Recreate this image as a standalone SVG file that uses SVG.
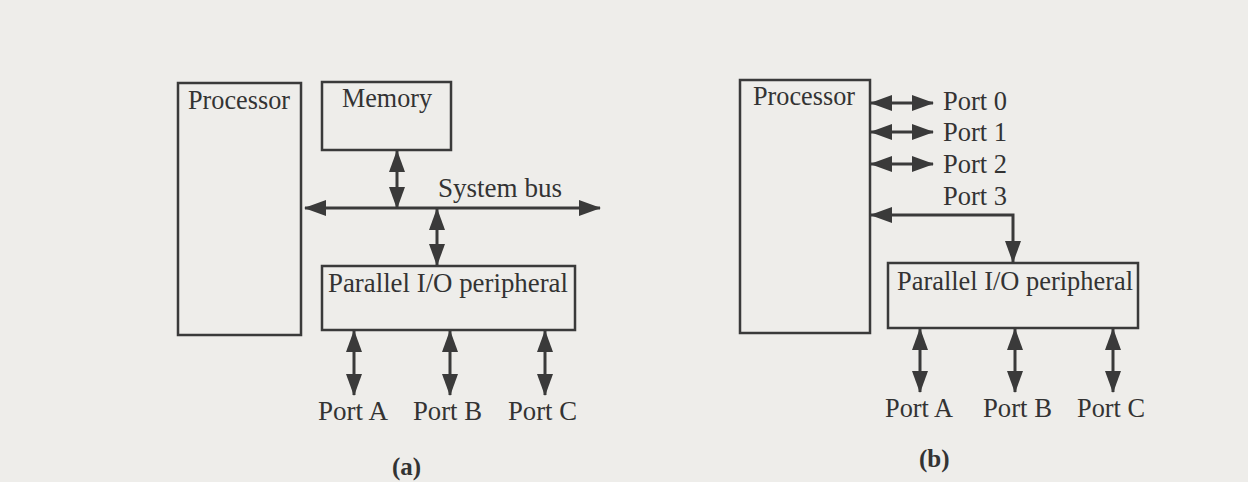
<svg xmlns="http://www.w3.org/2000/svg" width="1248" height="482" viewBox="0 0 1248 482">
<style>
.bg{fill:#eeedea}
.box{fill:none;stroke:#3a3a3a;stroke-width:2.5}
.t{font-family:"Liberation Serif","Times New Roman",serif;font-size:27px;fill:#333}
.cap{font-family:"Liberation Serif","Times New Roman",serif;font-size:25px;font-weight:bold;fill:#333}
.ar{fill:none;stroke:#3a3a3a;stroke-width:3;marker-start:url(#ah);marker-end:url(#ah)}
</style>
<defs>
<marker id="ah" viewBox="0 0 22 16" refX="21" refY="8" markerWidth="22" markerHeight="16" markerUnits="userSpaceOnUse" orient="auto-start-reverse">
<path d="M0,0 L22,8 L0,16 z" fill="#3a3a3a"/>
</marker>
</defs>
<rect class="bg" x="0" y="0" width="1248" height="482"/>

<!-- (a) -->
<g id="a-processor">
<rect class="box" x="178" y="83" width="123" height="252"/>
<text class="t" x="188" y="109" textLength="102" lengthAdjust="spacingAndGlyphs">Processor</text>
</g>
<g id="a-memory">
<rect class="box" x="322" y="82" width="129" height="68"/>
<text class="t" x="342" y="107" textLength="90" lengthAdjust="spacingAndGlyphs">Memory</text>
</g>
<g id="a-pio">
<rect class="box" x="322" y="266" width="253" height="64"/>
<text class="t" x="328" y="292" textLength="240" lengthAdjust="spacingAndGlyphs">Parallel I/O peripheral</text>
</g>
<g id="a-labels">
<text class="t" x="438" y="197" textLength="124" lengthAdjust="spacingAndGlyphs">System bus</text>
<text class="t" x="318" y="420" textLength="70" lengthAdjust="spacingAndGlyphs">Port A</text>
<text class="t" x="413" y="420" textLength="69" lengthAdjust="spacingAndGlyphs">Port B</text>
<text class="t" x="508" y="420" textLength="69" lengthAdjust="spacingAndGlyphs">Port C</text>
<text class="cap" x="392" y="475">(a)</text>
</g>

<!-- (b) -->
<g id="b-processor">
<rect class="box" x="740" y="80" width="130" height="253"/>
<text class="t" x="753" y="105" textLength="102" lengthAdjust="spacingAndGlyphs">Processor</text>
</g>
<g id="b-pio">
<rect class="box" x="888" y="263" width="250" height="65"/>
<text class="t" x="897" y="290" textLength="236" lengthAdjust="spacingAndGlyphs">Parallel I/O peripheral</text>
</g>
<g id="b-labels">
<text class="t" x="943" y="110" textLength="64" lengthAdjust="spacingAndGlyphs">Port 0</text>
<text class="t" x="943" y="141" textLength="64" lengthAdjust="spacingAndGlyphs">Port 1</text>
<text class="t" x="943" y="173" textLength="64" lengthAdjust="spacingAndGlyphs">Port 2</text>
<text class="t" x="943" y="205" textLength="64" lengthAdjust="spacingAndGlyphs">Port 3</text>
<text class="t" x="885" y="417" textLength="68" lengthAdjust="spacingAndGlyphs">Port A</text>
<text class="t" x="983" y="417" textLength="69" lengthAdjust="spacingAndGlyphs">Port B</text>
<text class="t" x="1077" y="417" textLength="68" lengthAdjust="spacingAndGlyphs">Port C</text>
<text class="cap" x="919" y="467">(b)</text>
</g>

<g id="connectors">
<!-- (a) -->
<line class="ar" x1="305" y1="208" x2="600" y2="208"/>
<line class="ar" x1="397" y1="151" x2="397" y2="208"/>
<line class="ar" x1="437" y1="209" x2="437" y2="265"/>
<line class="ar" x1="354" y1="331" x2="354" y2="395"/>
<line class="ar" x1="450" y1="331" x2="450" y2="395"/>
<line class="ar" x1="545" y1="331" x2="545" y2="395"/>
<!-- (b) -->
<line class="ar" x1="871" y1="103" x2="933" y2="103"/>
<line class="ar" x1="871" y1="132" x2="933" y2="132"/>
<line class="ar" x1="871" y1="164" x2="933" y2="164"/>
<path class="ar" d="M871,215 L1013,215 L1013,262"/>
<line class="ar" x1="920" y1="329" x2="920" y2="392"/>
<line class="ar" x1="1015" y1="329" x2="1015" y2="392"/>
<line class="ar" x1="1113" y1="329" x2="1113" y2="392"/>
</g>
</svg>
